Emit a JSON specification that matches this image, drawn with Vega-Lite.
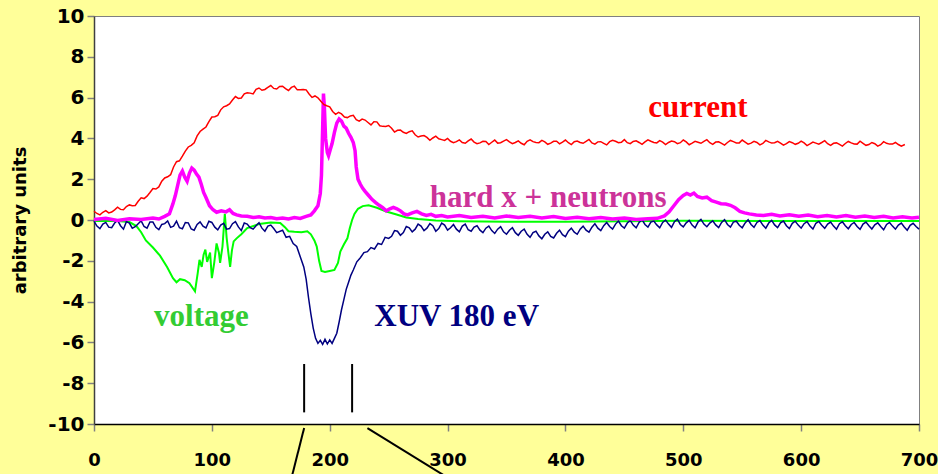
{
"$schema": "https://vega.github.io/schema/vega-lite/v6.json",
"width": 825, "height": 408,
"autosize": {"type": "none"},
"padding": {"left": 94, "top": 16, "right": 19, "bottom": 50},
"background": "#FFFF99",
"config": {"view": {"stroke": "#808080", "strokeWidth": 1, "fill": "white"}},
"datasets": {
"current": [
{"x":0,"y":0.43},{"x":5,"y":0.25},{"x":10,"y":0.46},{"x":15,"y":0.39},{"x":20,"y":0.63},{"x":25,"y":0.5},{"x":30,"y":0.74},{"x":35,"y":0.71},{"x":40,"y":1.09},{"x":45,"y":1.17},{"x":50,"y":1.54},{"x":55,"y":1.62},{"x":60,"y":2.06},{"x":65,"y":2.22},{"x":70,"y":2.86},{"x":75,"y":3.13},{"x":80,"y":3.58},{"x":85,"y":3.79},{"x":90,"y":4.34},{"x":95,"y":4.56},{"x":100,"y":5.05},{"x":105,"y":5.13},{"x":110,"y":5.55},{"x":115,"y":5.69},{"x":120,"y":6.05},{"x":125,"y":5.98},{"x":130,"y":6.24},{"x":135,"y":6.18},{"x":140,"y":6.47},{"x":145,"y":6.4},{"x":150,"y":6.59},{"x":155,"y":6.42},{"x":160,"y":6.56},{"x":165,"y":6.35},{"x":170,"y":6.56},{"x":175,"y":6.38},{"x":180,"y":6.38},{"x":185,"y":6.01},{"x":190,"y":5.99},{"x":195,"y":5.66},{"x":200,"y":5.55},{"x":205,"y":5.18},{"x":210,"y":5.2},{"x":215,"y":5.02},{"x":220,"y":5.13},{"x":225,"y":4.85},{"x":230,"y":4.9},{"x":235,"y":4.66},{"x":240,"y":4.81},{"x":245,"y":4.59},{"x":250,"y":4.63},{"x":255,"y":4.31},{"x":260,"y":4.41},{"x":265,"y":4.24},{"x":270,"y":4.37},{"x":275,"y":4.07},{"x":280,"y":4.14},{"x":285,"y":3.91},{"x":290,"y":4.11},{"x":295,"y":3.94},{"x":300,"y":4.0},{"x":305,"y":3.79},{"x":310,"y":3.93},{"x":315,"y":3.76},{"x":320,"y":3.97},{"x":325,"y":3.74},{"x":330,"y":3.86},{"x":335,"y":3.7},{"x":340,"y":3.92},{"x":345,"y":3.79},{"x":350,"y":3.94},{"x":355,"y":3.74},{"x":360,"y":3.88},{"x":365,"y":3.69},{"x":370,"y":3.93},{"x":375,"y":3.8},{"x":380,"y":3.9},{"x":385,"y":3.71},{"x":390,"y":3.86},{"x":395,"y":3.73},{"x":400,"y":3.92},{"x":405,"y":3.7},{"x":410,"y":3.87},{"x":415,"y":3.76},{"x":420,"y":3.95},{"x":425,"y":3.72},{"x":430,"y":3.84},{"x":435,"y":3.68},{"x":440,"y":3.91},{"x":445,"y":3.79},{"x":450,"y":3.94},{"x":455,"y":3.74},{"x":460,"y":3.88},{"x":465,"y":3.71},{"x":470,"y":3.93},{"x":475,"y":3.8},{"x":480,"y":3.89},{"x":485,"y":3.7},{"x":490,"y":3.87},{"x":495,"y":3.74},{"x":500,"y":3.92},{"x":505,"y":3.69},{"x":510,"y":3.86},{"x":515,"y":3.76},{"x":520,"y":3.94},{"x":525,"y":3.71},{"x":530,"y":3.83},{"x":535,"y":3.67},{"x":540,"y":3.9},{"x":545,"y":3.78},{"x":550,"y":3.92},{"x":555,"y":3.72},{"x":560,"y":3.86},{"x":565,"y":3.68},{"x":570,"y":3.9},{"x":575,"y":3.77},{"x":580,"y":3.86},{"x":585,"y":3.67},{"x":590,"y":3.84},{"x":595,"y":3.71},{"x":600,"y":3.87},{"x":605,"y":3.65},{"x":610,"y":3.82},{"x":615,"y":3.72},{"x":620,"y":3.89},{"x":625,"y":3.66},{"x":630,"y":3.78},{"x":635,"y":3.62},{"x":640,"y":3.85},{"x":645,"y":3.73},{"x":650,"y":3.86},{"x":655,"y":3.66},{"x":660,"y":3.8},{"x":665,"y":3.62},{"x":670,"y":3.84},{"x":675,"y":3.72},{"x":680,"y":3.8},{"x":685,"y":3.62},{"x":688,"y":3.7},
{"x":2.5,"y":0.32},{"x":7.5,"y":0.38},{"x":12.5,"y":0.35},{"x":17.5,"y":0.5},{"x":22.5,"y":0.52},{"x":27.5,"y":0.66},{"x":32.5,"y":0.7},{"x":37.5,"y":0.92},{"x":42.5,"y":1.05},{"x":47.5,"y":1.35},{"x":52.5,"y":1.52},{"x":57.5,"y":1.9},{"x":62.5,"y":2.12},{"x":67.5,"y":2.6},{"x":72.5,"y":2.9},{"x":77.5,"y":3.38},{"x":82.5,"y":3.66},{"x":87.5,"y":4.12},{"x":92.5,"y":4.45},{"x":97.5,"y":4.82},{"x":102.5,"y":5.06},{"x":107.5,"y":5.4},{"x":112.5,"y":5.6},{"x":117.5,"y":5.88},{"x":122.5,"y":5.96},{"x":127.5,"y":6.18},{"x":132.5,"y":6.22},{"x":137.5,"y":6.4},{"x":142.5,"y":6.36},{"x":147.5,"y":6.5},{"x":152.5,"y":6.45},{"x":157.5,"y":6.55},{"x":162.5,"y":6.44},{"x":167.5,"y":6.5},{"x":172.5,"y":6.38},{"x":177.5,"y":6.4},{"x":182.5,"y":6.18},{"x":187.5,"y":6.08},{"x":192.5,"y":5.82},{"x":197.5,"y":5.6},
{"x":202.5,"y":5.32},{"x":207.5,"y":5.28},{"x":212.5,"y":5.05},{"x":217.5,"y":5.1},{"x":222.5,"y":4.92},{"x":227.5,"y":4.95},{"x":232.5,"y":4.78},{"x":237.5,"y":4.82},{"x":242.5,"y":4.62},{"x":247.5,"y":4.58},{"x":252.5,"y":4.5},{"x":257.5,"y":4.4},{"x":262.5,"y":4.3},{"x":267.5,"y":4.33},{"x":272.5,"y":4.18},{"x":277.5,"y":4.12},{"x":282.5,"y":4.05},{"x":287.5,"y":4.02},{"x":292.5,"y":3.98},{"x":297.5,"y":3.9},
{"x":302.5,"y":3.86},{"x":307.5,"y":3.84},{"x":312.5,"y":3.8},{"x":317.5,"y":3.88},{"x":322.5,"y":3.82},{"x":327.5,"y":3.78},{"x":332.5,"y":3.85},{"x":337.5,"y":3.81},{"x":342.5,"y":3.77},{"x":347.5,"y":3.87},{"x":352.5,"y":3.83},{"x":357.5,"y":3.8},{"x":362.5,"y":3.76},{"x":367.5,"y":3.86},{"x":372.5,"y":3.84},{"x":377.5,"y":3.79},{"x":382.5,"y":3.83},{"x":387.5,"y":3.77},{"x":392.5,"y":3.86},{"x":397.5,"y":3.82},{"x":402.5,"y":3.79},{"x":407.5,"y":3.84},{"x":412.5,"y":3.8},{"x":417.5,"y":3.85},{"x":422.5,"y":3.78},{"x":427.5,"y":3.83},{"x":432.5,"y":3.76},{"x":437.5,"y":3.84},{"x":442.5,"y":3.86},{"x":447.5,"y":3.81},{"x":452.5,"y":3.79},{"x":457.5,"y":3.85},{"x":462.5,"y":3.8},{"x":467.5,"y":3.83},{"x":472.5,"y":3.86},{"x":477.5,"y":3.78},{"x":482.5,"y":3.82},{"x":487.5,"y":3.8},{"x":492.5,"y":3.84},{"x":497.5,"y":3.79},{"x":502.5,"y":3.83},{"x":507.5,"y":3.77},{"x":512.5,"y":3.81},{"x":517.5,"y":3.85},{"x":522.5,"y":3.79},{"x":527.5,"y":3.82},{"x":532.5,"y":3.76},{"x":537.5,"y":3.8},{"x":542.5,"y":3.84},{"x":547.5,"y":3.78},{"x":552.5,"y":3.82},{"x":557.5,"y":3.77},{"x":562.5,"y":3.8},{"x":567.5,"y":3.75},{"x":572.5,"y":3.83},{"x":577.5,"y":3.79},{"x":582.5,"y":3.77},{"x":587.5,"y":3.74},{"x":592.5,"y":3.79},{"x":597.5,"y":3.76},{"x":602.5,"y":3.78},{"x":607.5,"y":3.73},{"x":612.5,"y":3.77},{"x":617.5,"y":3.8},{"x":622.5,"y":3.74},{"x":627.5,"y":3.76},{"x":632.5,"y":3.71},{"x":637.5,"y":3.75},{"x":642.5,"y":3.78},{"x":647.5,"y":3.72},{"x":652.5,"y":3.76},{"x":657.5,"y":3.7},{"x":662.5,"y":3.74},{"x":667.5,"y":3.69},{"x":672.5,"y":3.76},{"x":677.5,"y":3.72},{"x":682.5,"y":3.7}
],
"xuv": [
{"x":0,"y":-0.05},{"x":5,"y":-0.42},{"x":10,"y":-0.12},{"x":15,"y":-0.38},{"x":20,"y":-0.02},{"x":25,"y":-0.45},{"x":30,"y":-0.15},{"x":35,"y":-0.33},{"x":40,"y":-0.04},{"x":45,"y":-0.4},{"x":50,"y":-0.1},{"x":55,"y":-0.47},{"x":60,"y":-0.18},{"x":65,"y":-0.36},{"x":70,"y":-0.06},{"x":75,"y":-0.43},{"x":80,"y":-0.14},{"x":85,"y":-0.5},{"x":90,"y":-0.09},{"x":95,"y":-0.39},{"x":100,"y":-0.12},{"x":105,"y":-0.48},{"x":110,"y":-0.16},{"x":115,"y":-0.42},{"x":120,"y":-0.08},{"x":125,"y":-0.52},{"x":130,"y":-0.2},{"x":135,"y":-0.45},{"x":140,"y":-0.13},{"x":145,"y":-0.55},{"x":150,"y":-0.25},{"x":155,"y":-0.62},{"x":160,"y":-0.5},{"x":163,"y":-0.85},{"x":166,"y":-0.8},{"x":169,"y":-1.15},{"x":172,"y":-1.3},{"x":175,"y":-1.8},{"x":178,"y":-2.3},{"x":180,"y":-2.9},{"x":182,"y":-3.8},{"x":184,"y":-4.6},{"x":186,"y":-5.3},{"x":188,"y":-5.8},{"x":190,"y":-6.05},{"x":192,"y":-5.9},{"x":194,"y":-6.1},{"x":196,"y":-5.85},{"x":198,"y":-6.08},{"x":200,"y":-5.88},{"x":202,"y":-6.05},{"x":204,"y":-5.8},{"x":206,"y":-5.55},{"x":208,"y":-5.0},{"x":210,"y":-4.4},{"x":212,"y":-3.9},{"x":214,"y":-3.4},{"x":216,"y":-3.05},{"x":218,"y":-2.7},{"x":220,"y":-2.45},{"x":223,"y":-2.05},{"x":226,"y":-1.85},{"x":229,"y":-1.6},{"x":232,"y":-1.55},{"x":235,"y":-1.35},{"x":238,"y":-1.42},{"x":241,"y":-1.15},{"x":244,"y":-1.2},{"x":247,"y":-0.85},{"x":250,"y":-0.9},{"x":255,"y":-0.52},{"x":260,"y":-0.75},{"x":265,"y":-0.32},{"x":270,"y":-0.58},{"x":275,"y":-0.2},{"x":280,"y":-0.52},{"x":285,"y":-0.18},{"x":290,"y":-0.55},{"x":295,"y":-0.15},{"x":300,"y":-0.5},{"x":305,"y":-0.22},{"x":310,"y":-0.58},{"x":315,"y":-0.2},{"x":320,"y":-0.55},{"x":325,"y":-0.28},{"x":330,"y":-0.62},{"x":335,"y":-0.3},{"x":340,"y":-0.66},{"x":345,"y":-0.33},{"x":350,"y":-0.7},{"x":355,"y":-0.38},{"x":360,"y":-0.75},{"x":365,"y":-0.45},{"x":370,"y":-0.85},{"x":375,"y":-0.55},{"x":380,"y":-0.92},{"x":385,"y":-0.58},{"x":390,"y":-0.88},{"x":395,"y":-0.5},{"x":400,"y":-0.82},{"x":405,"y":-0.4},{"x":410,"y":-0.7},{"x":415,"y":-0.3},{"x":420,"y":-0.6},{"x":425,"y":-0.18},{"x":430,"y":-0.52},{"x":435,"y":-0.12},{"x":440,"y":-0.45},{"x":445,"y":-0.05},{"x":450,"y":-0.4},{"x":455,"y":-0.02},{"x":460,"y":-0.38},{"x":465,"y":0.02},{"x":470,"y":-0.35},{"x":475,"y":-0.05},{"x":480,"y":-0.38},{"x":485,"y":0.0},{"x":490,"y":-0.36},{"x":495,"y":0.04},{"x":500,"y":-0.34},{"x":505,"y":-0.02},{"x":510,"y":-0.38},{"x":515,"y":0.03},{"x":520,"y":-0.33},{"x":525,"y":-0.04},{"x":530,"y":-0.37},{"x":535,"y":0.02},{"x":540,"y":-0.35},{"x":545,"y":-0.06},{"x":550,"y":-0.38},{"x":555,"y":0.01},{"x":560,"y":-0.36},{"x":565,"y":-0.03},{"x":570,"y":-0.4},{"x":575,"y":-0.02},{"x":580,"y":-0.37},{"x":585,"y":-0.05},{"x":590,"y":-0.42},{"x":595,"y":-0.06},{"x":600,"y":-0.4},{"x":605,"y":-0.08},{"x":610,"y":-0.44},{"x":615,"y":-0.07},{"x":620,"y":-0.41},{"x":625,"y":-0.1},{"x":630,"y":-0.45},{"x":635,"y":-0.09},{"x":640,"y":-0.43},{"x":645,"y":-0.12},{"x":650,"y":-0.46},{"x":655,"y":-0.1},{"x":660,"y":-0.44},{"x":665,"y":-0.14},{"x":670,"y":-0.48},{"x":675,"y":-0.12},{"x":680,"y":-0.45},{"x":685,"y":-0.15},{"x":690,"y":-0.5},{"x":695,"y":-0.16},{"x":700,"y":-0.45},
{"x":2.5,"y":-0.3},{"x":7.5,"y":-0.2},{"x":12.5,"y":-0.35},{"x":17.5,"y":-0.15},{"x":22.5,"y":-0.28},{"x":27.5,"y":-0.08},{"x":32.5,"y":-0.4},{"x":37.5,"y":-0.18},{"x":42.5,"y":-0.32},{"x":47.5,"y":-0.1},{"x":52.5,"y":-0.36},{"x":57.5,"y":-0.22},{"x":62.5,"y":-0.05},{"x":67.5,"y":-0.3},{"x":72.5,"y":-0.38},{"x":77.5,"y":-0.12},{"x":82.5,"y":-0.44},{"x":87.5,"y":-0.22},{"x":92.5,"y":-0.3},{"x":97.5,"y":-0.06},{"x":102.5,"y":-0.35},{"x":107.5,"y":-0.25},{"x":112.5,"y":-0.45},{"x":117.5,"y":-0.18},{"x":122.5,"y":-0.34},{"x":127.5,"y":-0.15},{"x":132.5,"y":-0.38},{"x":137.5,"y":-0.28},{"x":142.5,"y":-0.4},{"x":147.5,"y":-0.3},{"x":152.5,"y":-0.42},
{"x":252.5,"y":-0.8},{"x":257.5,"y":-0.55},{"x":262.5,"y":-0.62},{"x":267.5,"y":-0.38},{"x":272.5,"y":-0.45},{"x":277.5,"y":-0.3},{"x":282.5,"y":-0.4},{"x":287.5,"y":-0.28},{"x":292.5,"y":-0.42},{"x":297.5,"y":-0.25},{"x":302.5,"y":-0.38},{"x":307.5,"y":-0.45},{"x":312.5,"y":-0.3},{"x":317.5,"y":-0.48},{"x":322.5,"y":-0.35},{"x":327.5,"y":-0.5},{"x":332.5,"y":-0.4},{"x":337.5,"y":-0.52},{"x":342.5,"y":-0.45},{"x":347.5,"y":-0.58},{"x":352.5,"y":-0.5},{"x":357.5,"y":-0.62},{"x":362.5,"y":-0.55},{"x":367.5,"y":-0.7},{"x":372.5,"y":-0.62},{"x":377.5,"y":-0.78},{"x":382.5,"y":-0.7},{"x":387.5,"y":-0.8},{"x":392.5,"y":-0.65},{"x":397.5,"y":-0.72},{"x":402.5,"y":-0.55},{"x":407.5,"y":-0.6},{"x":412.5,"y":-0.45},{"x":417.5,"y":-0.5},{"x":422.5,"y":-0.35},{"x":427.5,"y":-0.4},{"x":432.5,"y":-0.28},{"x":437.5,"y":-0.32},{"x":442.5,"y":-0.2},{"x":447.5,"y":-0.28},{"x":452.5,"y":-0.15},{"x":457.5,"y":-0.25},{"x":462.5,"y":-0.12},{"x":467.5,"y":-0.22},{"x":472.5,"y":-0.1},{"x":477.5,"y":-0.24},{"x":482.5,"y":-0.12},{"x":487.5,"y":-0.2},{"x":492.5,"y":-0.08},{"x":497.5,"y":-0.22},{"x":502.5,"y":-0.14},{"x":507.5,"y":-0.25},{"x":512.5,"y":-0.1},{"x":517.5,"y":-0.2},{"x":522.5,"y":-0.15},{"x":527.5,"y":-0.24},{"x":532.5,"y":-0.12},{"x":537.5,"y":-0.22},{"x":542.5,"y":-0.1},{"x":547.5,"y":-0.26},{"x":552.5,"y":-0.14},{"x":557.5,"y":-0.22},{"x":562.5,"y":-0.12},{"x":567.5,"y":-0.25},{"x":572.5,"y":-0.15},{"x":577.5,"y":-0.24},{"x":582.5,"y":-0.14},{"x":587.5,"y":-0.28},{"x":592.5,"y":-0.16},{"x":597.5,"y":-0.25},{"x":602.5,"y":-0.18},{"x":607.5,"y":-0.3},{"x":612.5,"y":-0.16},{"x":617.5,"y":-0.26},{"x":622.5,"y":-0.2},{"x":627.5,"y":-0.3},{"x":632.5,"y":-0.18},{"x":637.5,"y":-0.28},{"x":642.5,"y":-0.22},{"x":647.5,"y":-0.32},{"x":652.5,"y":-0.2},{"x":657.5,"y":-0.28},{"x":662.5,"y":-0.24},{"x":667.5,"y":-0.32},{"x":672.5,"y":-0.22},{"x":677.5,"y":-0.3},{"x":682.5,"y":-0.25},{"x":687.5,"y":-0.34},{"x":692.5,"y":-0.26},{"x":697.5,"y":-0.32}
],
"hard": [
{"x":0,"y":0.02},{"x":10,"y":0.08},{"x":20,"y":-0.02},{"x":30,"y":0.06},{"x":40,"y":0.03},{"x":50,"y":0.1},{"x":55,"y":0.05},{"x":60,"y":0.18},{"x":64,"y":0.3},{"x":67,"y":0.8},{"x":69,"y":1.2},{"x":71,"y":1.7},{"x":73,"y":2.2},{"x":75,"y":2.4},{"x":77,"y":2.1},{"x":79,"y":1.9},{"x":81,"y":2.3},{"x":83,"y":2.55},{"x":85,"y":2.45},{"x":87,"y":2.25},{"x":89,"y":2.1},{"x":91,"y":1.75},{"x":93,"y":1.35},{"x":95,"y":1.1},{"x":98,"y":0.7},{"x":101,"y":0.5},{"x":104,"y":0.38},{"x":108,"y":0.45},{"x":112,"y":0.4},{"x":115,"y":0.5},{"x":118,"y":0.32},{"x":121,"y":0.25},{"x":125,"y":0.2},{"x":130,"y":0.18},{"x":135,"y":0.12},{"x":140,"y":0.16},{"x":145,"y":0.1},{"x":150,"y":0.12},{"x":155,"y":0.06},{"x":160,"y":0.1},{"x":165,"y":0.05},{"x":170,"y":0.12},{"x":175,"y":0.08},{"x":180,"y":0.18},{"x":184,"y":0.25},{"x":187,"y":0.45},{"x":190,"y":0.7},{"x":192,"y":1.3},{"x":193,"y":2.2},{"x":194,"y":4.5},{"x":194.7,"y":6.2},{"x":195.5,"y":5.5},{"x":196.5,"y":4.0},{"x":198,"y":3.3},{"x":199,"y":3.15},{"x":200.5,"y":3.45},{"x":202,"y":3.75},{"x":204,"y":4.3},{"x":206,"y":4.75},{"x":208,"y":4.95},{"x":210,"y":4.85},{"x":212,"y":4.6},{"x":214,"y":4.5},{"x":216,"y":4.25},{"x":218,"y":4.05},{"x":220,"y":3.8},{"x":221.5,"y":3.4},{"x":222.5,"y":2.6},{"x":224,"y":2.0},{"x":226,"y":1.75},{"x":228,"y":1.55},{"x":230,"y":1.4},{"x":233,"y":1.2},{"x":236,"y":1.0},{"x":239,"y":0.85},{"x":242,"y":0.72},{"x":245,"y":0.6},{"x":248,"y":0.45},{"x":251,"y":0.55},{"x":254,"y":0.62},{"x":257,"y":0.55},{"x":260,"y":0.45},{"x":263,"y":0.3},{"x":266,"y":0.25},{"x":270,"y":0.35},{"x":274,"y":0.42},{"x":278,"y":0.3},{"x":282,"y":0.22},{"x":286,"y":0.28},{"x":290,"y":0.18},{"x":295,"y":0.22},{"x":300,"y":0.15},{"x":310,"y":0.22},{"x":320,"y":0.12},{"x":330,"y":0.18},{"x":340,"y":0.1},{"x":350,"y":0.2},{"x":360,"y":0.12},{"x":370,"y":0.18},{"x":380,"y":0.1},{"x":390,"y":0.17},{"x":400,"y":0.08},{"x":410,"y":0.14},{"x":420,"y":0.06},{"x":430,"y":0.12},{"x":440,"y":0.05},{"x":450,"y":0.1},{"x":460,"y":0.02},{"x":470,"y":0.06},{"x":478,"y":0.08},{"x":484,"y":0.2},{"x":488,"y":0.4},{"x":492,"y":0.7},{"x":496,"y":1.0},{"x":500,"y":1.2},{"x":503,"y":1.3},{"x":506,"y":1.22},{"x":509,"y":1.32},{"x":512,"y":1.15},{"x":516,"y":1.08},{"x":520,"y":1.12},{"x":524,"y":0.95},{"x":528,"y":0.88},{"x":532,"y":0.8},{"x":536,"y":0.78},{"x":540,"y":0.72},{"x":544,"y":0.6},{"x":548,"y":0.42},{"x":552,"y":0.35},{"x":556,"y":0.3},{"x":562,"y":0.25},{"x":568,"y":0.22},{"x":575,"y":0.28},{"x":582,"y":0.2},{"x":590,"y":0.26},{"x":598,"y":0.18},{"x":606,"y":0.24},{"x":614,"y":0.16},{"x":622,"y":0.22},{"x":630,"y":0.15},{"x":638,"y":0.22},{"x":646,"y":0.14},{"x":654,"y":0.2},{"x":662,"y":0.12},{"x":670,"y":0.18},{"x":678,"y":0.1},{"x":686,"y":0.16},{"x":694,"y":0.1},{"x":700,"y":0.14}
],
"voltage": [
{"x":0,"y":-0.05},{"x":20,"y":-0.05},{"x":30,"y":-0.1},{"x":36,"y":-0.3},{"x":40,"y":-0.6},{"x":44,"y":-1.0},{"x":50,"y":-1.35},{"x":56,"y":-1.75},{"x":62,"y":-2.3},{"x":67,"y":-2.85},{"x":70,"y":-3.05},{"x":73,"y":-2.9},{"x":77,"y":-2.95},{"x":81,"y":-3.1},{"x":85.7,"y":-3.5},{"x":88,"y":-2.6},{"x":89.5,"y":-1.95},{"x":91.4,"y":-2.3},{"x":93,"y":-1.7},{"x":94.5,"y":-1.45},{"x":96,"y":-2.05},{"x":98.5,"y":-1.6},{"x":100,"y":-2.85},{"x":102,"y":-2.1},{"x":104,"y":-1.15},{"x":106,"y":-1.6},{"x":107,"y":-2.1},{"x":109,"y":-1.3},{"x":111,"y":0.3},{"x":112.5,"y":-0.85},{"x":114,"y":-1.6},{"x":115.5,"y":-2.3},{"x":117,"y":-1.5},{"x":118.5,"y":-1.05},{"x":121,"y":-0.9},{"x":125,"y":-0.7},{"x":130,"y":-0.4},{"x":140,"y":-0.2},{"x":150,"y":-0.12},{"x":158,"y":-0.15},{"x":162,"y":-0.35},{"x":165,"y":-0.55},{"x":170,"y":-0.58},{"x":176,"y":-0.6},{"x":181,"y":-0.55},{"x":184,"y":-0.7},{"x":187,"y":-1.0},{"x":189,"y":-1.3},{"x":191,"y":-2.0},{"x":193,"y":-2.5},{"x":196,"y":-2.55},{"x":200,"y":-2.5},{"x":204,"y":-2.45},{"x":207,"y":-2.1},{"x":209,"y":-1.55},{"x":212,"y":-1.2},{"x":215,"y":-0.9},{"x":217,"y":-0.4},{"x":219,"y":0.0},{"x":221,"y":0.3},{"x":224,"y":0.55},{"x":228,"y":0.68},{"x":233,"y":0.72},{"x":240,"y":0.6},{"x":248,"y":0.42},{"x":256,"y":0.28},{"x":265,"y":0.12},{"x":275,"y":0.05},{"x":290,"y":-0.03},{"x":310,"y":-0.06},{"x":350,"y":-0.08},{"x":400,"y":-0.08},{"x":450,"y":-0.06},{"x":500,"y":-0.04},{"x":600,"y":-0.05},{"x":700,"y":-0.05}
],
"marks": [
{"x":178.3,"y":-7.06,"x2":178.3,"y2":-9.43},
{"x":219,"y":-7.06,"x2":219,"y2":-9.43},
{"x":178.3,"y":-10.2,"x2":167.2,"y2":-12.73},
{"x":232,"y":-10.2,"x2":302.9,"y2":-12.73}
],
"labels": [
{"x":512.4,"y":5.03,"t":"current"},
{"x":385.4,"y":0.64,"t":"hard x + neutrons"},
{"x":91.1,"y":-5.2,"t":"voltage"},
{"x":307.7,"y":-5.2,"t":"XUV 180 eV"}
]
},
"encoding": {
"x": {"field": "x", "type": "quantitative",
 "scale": {"domain": [0, 700], "nice": false, "zero": false},
 "axis": {"values": [0,100,200,300,400,500,600,700], "title": null, "grid": false,
  "labelFont": "DejaVu Sans", "labelFontWeight": "bold", "labelFontSize": 18, "labelColor": "black",
  "domainColor": "black", "domainWidth": 1.5, "tickColor": "#808080", "tickSize": 7, "tickWidth": 1.5,
  "labelPadding": 20, "labelFlush": false, "labelOverlap": false}},
"y": {"field": "y", "type": "quantitative",
 "scale": {"domain": [-10, 10], "nice": false, "zero": false},
 "axis": {"values": [-10,-8,-6,-4,-2,0,2,4,6,8,10], "title": "arbitrary units", "grid": false,
  "labelExpr": "toString(datum.value)",
  "titleFont": "DejaVu Sans", "titleFontSize": 18, "titleFontWeight": "bold", "titleColor": "black", "titlePadding": 18,
  "labelFont": "DejaVu Sans", "labelFontWeight": "bold", "labelFontSize": 20, "labelColor": "black",
  "domainColor": "#404040", "domainWidth": 1.5, "tickColor": "#808080", "tickSize": 7, "tickWidth": 1.5,
  "labelPadding": 3, "labelFlush": false, "labelOverlap": false}}
},
"layer": [
{"data": {"name": "voltage"}, "mark": {"type": "line", "color": "#00FF00", "strokeWidth": 2}},
{"data": {"name": "xuv"}, "mark": {"type": "line", "color": "#000080", "strokeWidth": 1.5}},
{"data": {"name": "hard"}, "mark": {"type": "line", "color": "#FF00FF", "strokeWidth": 3.5}},
{"data": {"name": "current"}, "mark": {"type": "line", "color": "#FF0000", "strokeWidth": 1.5}},
{"data": {"name": "marks"}, "mark": {"type": "rule", "color": "black", "strokeWidth": 2, "clip": false},
 "encoding": {"x2": {"field": "x2"}, "y2": {"field": "y2"}}},
{"data": {"name": "labels"}, "mark": {"type": "text", "font": "Liberation Serif", "fontWeight": "bold", "fontSize": 31, "baseline": "alphabetic", "align": "center"},
 "encoding": {"text": {"field": "t"},
  "color": {"field": "t", "type": "nominal", "legend": null,
   "scale": {"domain": ["current", "hard x + neutrons", "voltage", "XUV 180 eV"], "range": ["#FF0000", "#CC3399", "#33CC33", "#000080"]}}}}
]
}
